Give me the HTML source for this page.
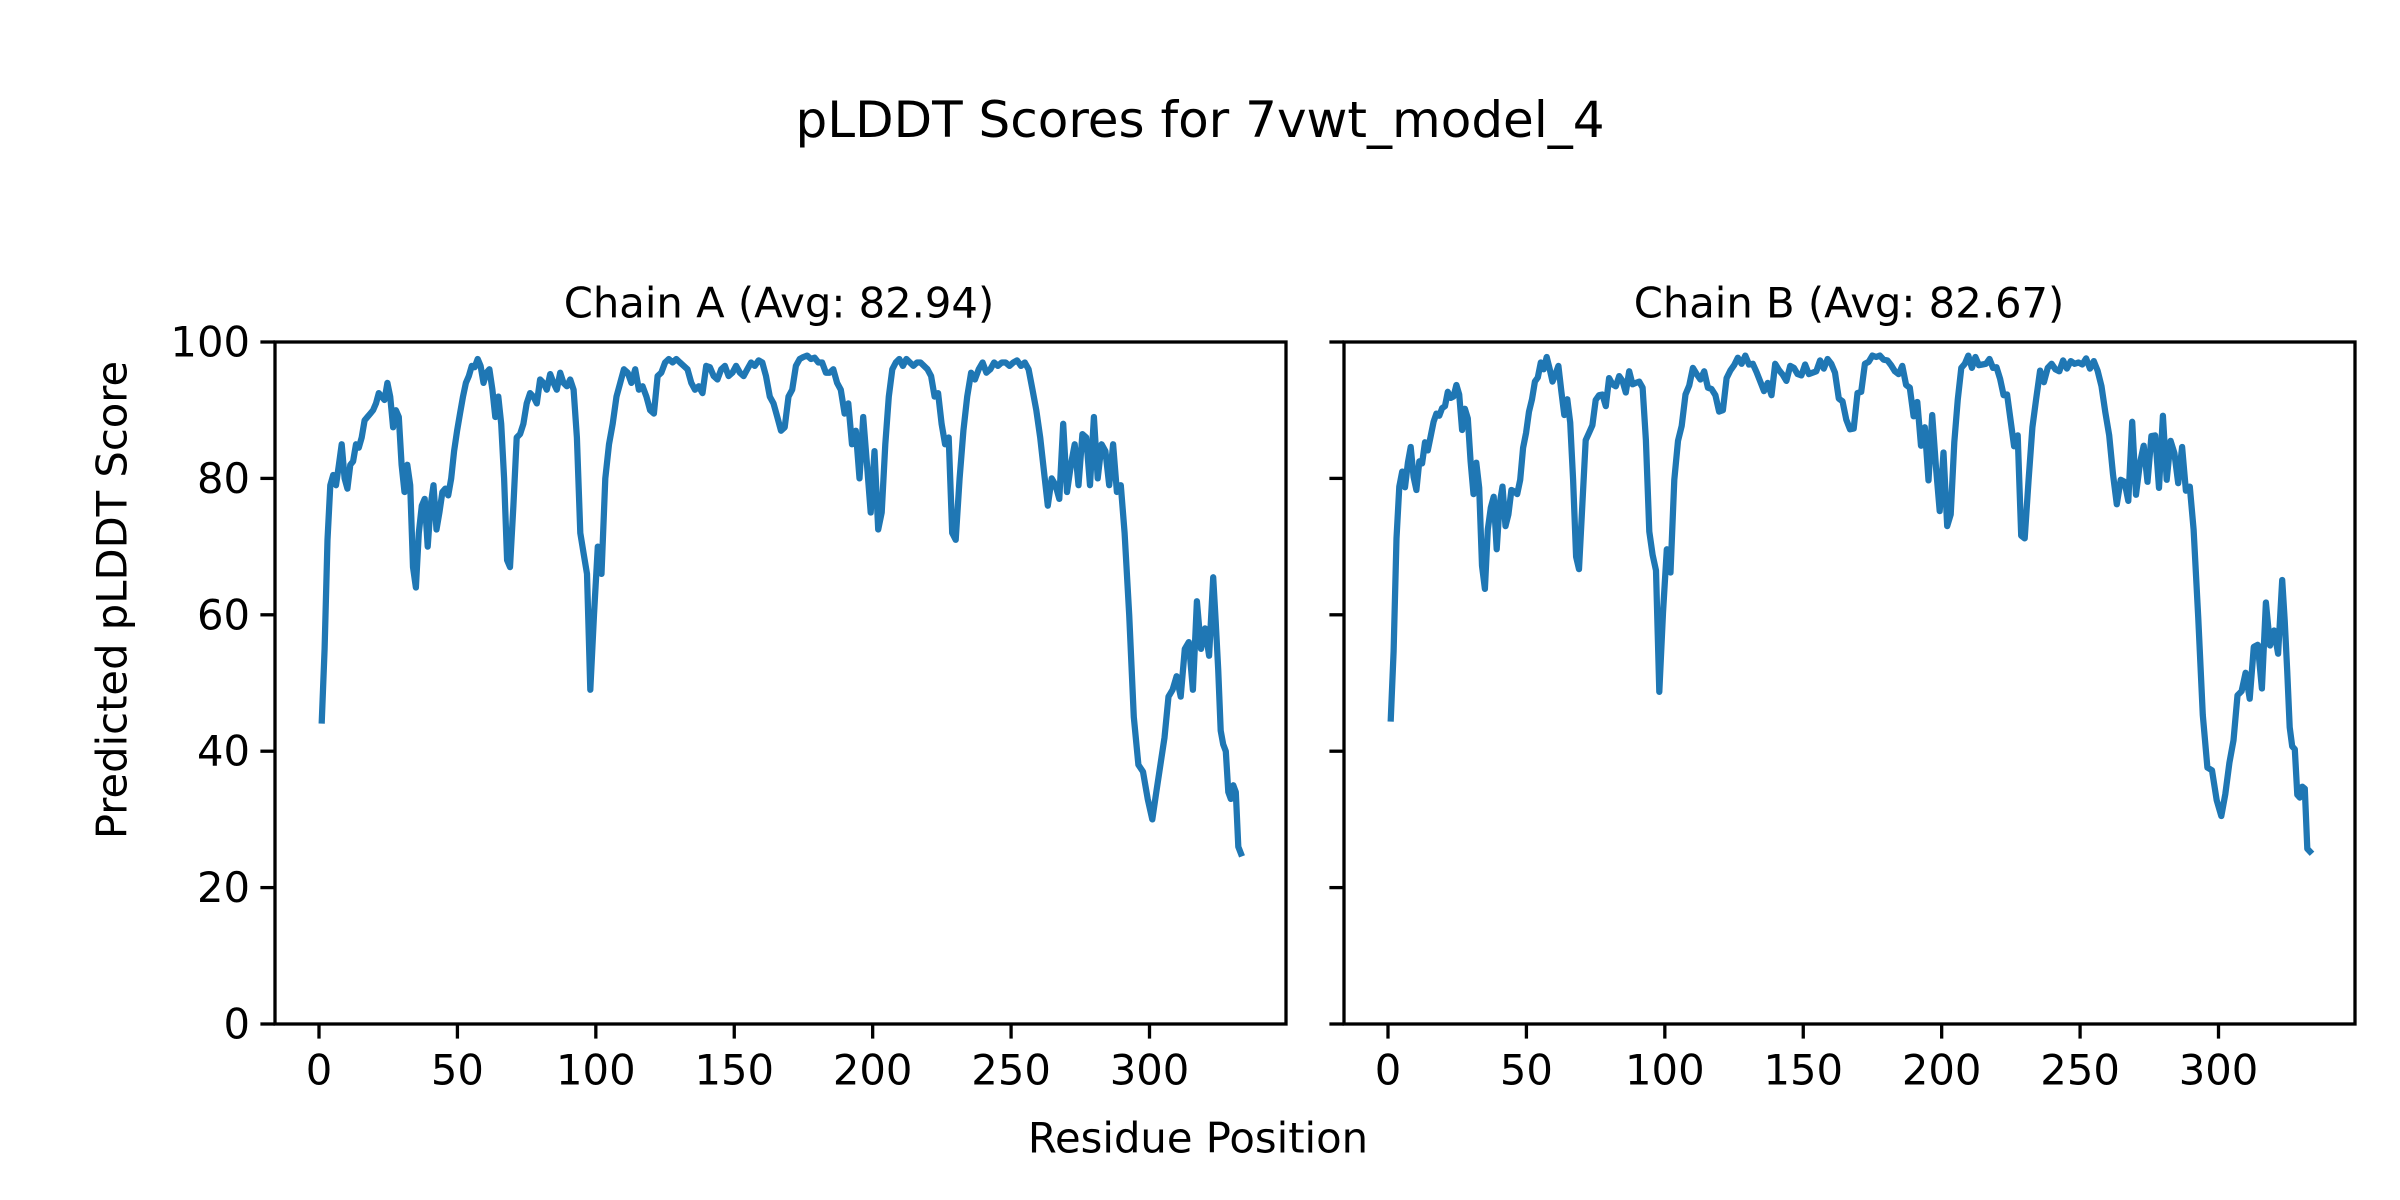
<!DOCTYPE html>
<html><head><meta charset="utf-8"><style>
html,body{margin:0;padding:0;background:#fff;}
svg{display:block;}
text{font-family:"DejaVu Sans","Liberation Sans",sans-serif;fill:#000;}
</style></head><body>
<svg id="s" width="2400" height="1200" viewBox="0 0 2400 1200" xmlns="http://www.w3.org/2000/svg">
<rect width="2400" height="1200" fill="#fff"/>
<text x="1200" y="120" font-size="50" text-anchor="middle" dominant-baseline="central">pLDDT Scores for 7vwt_model_4</text>
<text x="779" y="303" font-size="41.7" text-anchor="middle" dominant-baseline="central">Chain A (Avg: 82.94)</text>
<text x="1849" y="303" font-size="41.7" text-anchor="middle" dominant-baseline="central">Chain B (Avg: 82.67)</text>
<text x="1198" y="1138" font-size="41.7" text-anchor="middle" dominant-baseline="central">Residue Position</text>
<text transform="translate(112,600) rotate(-90)" font-size="41.7" text-anchor="middle" dominant-baseline="central">Predicted pLDDT Score</text>
<g id="g"></g>
</svg>
<script>
(function(){
var A=[44.5,55,71,79,80.5,79,82,85,80,78.5,82,82.5,85,84.5,86,88.5,89,89.5,90,91,92.5,92,91.5,94,92,87.5,90,89,82,78,82,79,67,64,72,76,77,70,76,79,72.5,75,78,78.5,77.5,80,84,87,89.5,92,94,95,96.5,96.3,97.5,96.5,94,95.5,96,93,89,92,88,80,68,67,76,86,86.5,88,91,92.5,92,91,94.5,94,93,95.3,94,93,95.5,94,93.5,94.5,93,86,72,69,66,49,60,70,66,80,85,88,92,94,96,95.5,94,96,93,93.5,92,90,89.5,95,95.5,97,97.5,97,97.5,97,96.5,96,94,93,93.5,92.5,96.5,96.3,95,94.5,96,96.5,95,95.5,96.5,95.5,95,96,97,96.5,97.3,97,95,92,91,89,87,87.5,92,93,96.5,97.5,97.8,98,97.5,97.7,97,97,95.5,95.5,96,94,93,89.5,91,85,87,80,89,82,75,84,72.5,75,85,92,96,97,97.5,96.5,97.5,97,96.5,97,97,96.5,96,95,92,92.5,88,85,86,72,71,80,87,92,95.5,94.5,96,97,95.5,96,97,96.5,97,97,96.5,97,97.3,96.5,97,96,93,90,86,81,76,80,79,77,88,78,82,85,79,86.5,86,79,89,80,85,84,79,85,78,79,72,60,45,38,37,33,30,34,38,42,48,49,51,48,55,56,49,62,55,58,54,65.5,59,52,43,41,40,34,33,35,34,26,25];
var anc=[[1,1],[34,35],[66,69],[90,98],[167,202],[189,230],[233,291],[239,301],[254,323],[265,333]];
function res(i){for(var k=0;k<anc.length-1;k++){var a=anc[k],b=anc[k+1];if(i<=b[0])return a[1]+(i-a[0])*(b[1]-a[1])/(b[0]-a[0]);}return anc[anc.length-1][1];}
var ns="http://www.w3.org/2000/svg",g=document.getElementById('g');
function el(t,at,txt){var e=document.createElementNS(ns,t);for(var k in at)e.setAttribute(k,at[k]);if(txt!=null)e.textContent=txt;g.appendChild(e);return e;}
var yTop=342,yBot=1024,ppx=1011/365.2;
function panel(L,labels,delta){
  var x0=L+44;
  var pts=[];
  for(var i=0;i<A.length;i++){var v=A[i]+(delta?delta[i%delta.length]:0);pts.push((x0+res(i+1)*ppx).toFixed(1)+","+(yBot-v*6.82).toFixed(1));}
  el('polyline',{points:pts.join(' '),fill:'none',stroke:'#1f77b4','stroke-width':6.25,'stroke-linejoin':'round','stroke-linecap':'square'});
  el('rect',{x:L,y:yTop,width:1011,height:yBot-yTop,fill:'none',stroke:'#000','stroke-width':3.3});
  for(var t=0;t<=300;t+=50){var x=x0+t*ppx;el('line',{x1:x,y1:yBot,x2:x,y2:yBot+14.6,stroke:'#000','stroke-width':3.3});el('text',{x:x,y:1070,'font-size':41.7,'text-anchor':'middle','dominant-baseline':'central'},String(t));}
  for(var v=0;v<=100;v+=20){var y=yBot-v*6.82;el('line',{x1:L,y1:y,x2:L-14.6,y2:y,stroke:'#000','stroke-width':3.3});if(labels)el('text',{x:L-25,y:y,'font-size':41.7,'text-anchor':'end','dominant-baseline':'central'},String(v));}
}
panel(275,true,null);
panel(1344,false,[0.3,-0.4,0.2,-0.2,0.5,-0.3]);
})();
</script>
</body></html>
